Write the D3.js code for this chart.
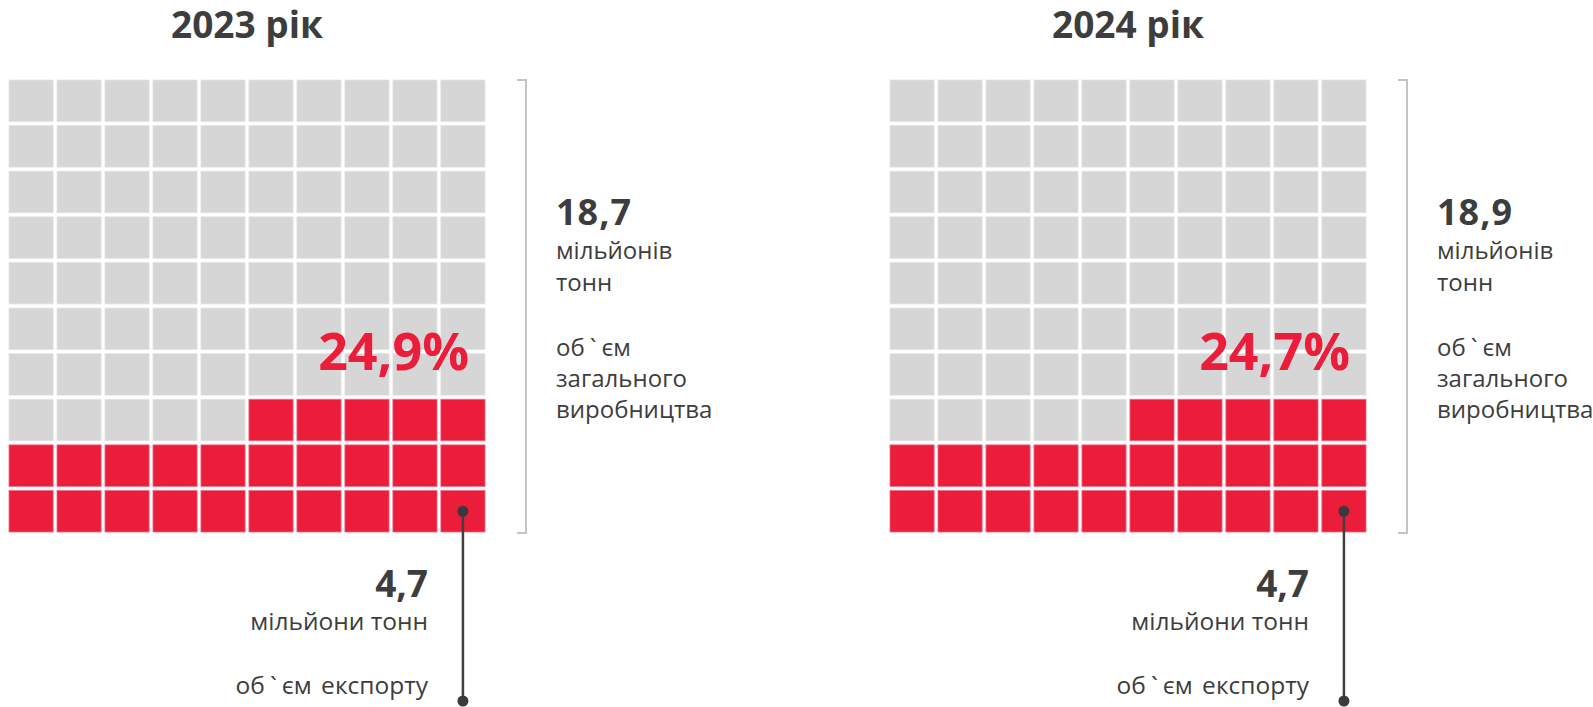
<!DOCTYPE html>
<html>
<head>
<meta charset="utf-8">
<script src="https://cdn.jsdelivr.net/npm/d3@7"></script>
<style>
  html, body { margin: 0; padding: 0; background: #fff; }
  svg { display: block; }
</style>
</head>
<body>
<svg id="chart" width="1593" height="707"></svg>
<script>
// ---- data ----
const years = ["2023 рік", "2024 рік"];
const productionValues = ["18,7", "18,9"];
const exportValues = ["4,7", "4,7"];
const sharePercent = [24.9, 24.7];
const shareLabels = ["24,9%", "24,7%"];
const productionUnit = ["мільйонів", "тонн"];
const productionCaption = ["об`єм", "загального", "виробництва"];
const exportUnit = "мільйони тонн";
const exportCaption = "об`єм експорту";
const gridCols = d3.range(10);
const gridRows = d3.range(10);

// ---- style ----
const RED = "#ec1c3b";
const GREY = "#d6d6d6";
const TEXT = "#3d3d3d";
const FONT = "'Open Sans', 'DejaVu Sans', sans-serif";

const svg = d3.select("#chart");
const panelOffset = 881;

// write text, widening the space around the backtick like the reference font
function spaced(sel, str) {
  const parts = str.split("`");
  parts.forEach((part, k) => {
    if (k > 0) sel.append("tspan").attr("dx", 5).text("`");
    sel.append("tspan").attr("dx", k > 0 ? 5 : 0).text(part);
  });
  return sel;
}

years.forEach((year, p) => {
  const g = svg.append("g").attr("transform", `translate(${p * panelOffset},0)`);

  const x = d3.scaleBand().domain(gridCols).range([9, 485]).paddingInner(0.08);
  const y = d3.scaleBand().domain(gridRows).range([80, 532]).paddingInner(0.09);

  const redCount = Math.round(sharePercent[p]);
  const cells = d3.range(100).map(i => ({
    i,
    row: 9 - Math.floor(i / 10),
    col: 9 - (i % 10),
    red: i < redCount
  }));

  g.selectAll("rect.cell").data(cells).join("rect")
    .attr("class", "cell")
    .attr("x", d => x(d.col))
    .attr("y", d => y(d.row))
    .attr("width", x.bandwidth())
    .attr("height", y.bandwidth())
    .attr("fill", d => d.red ? RED : GREY)
    .attr("stroke", d => d.red ? "#f06a80" : "#e4e4e4")
    .attr("stroke-width", 0.8);

  // title
  g.append("text")
    .attr("x", (x.range()[0] + x.range()[1]) / 2)
    .attr("y", 38)
    .attr("text-anchor", "middle")
    .attr("font-family", FONT)
    .attr("font-weight", 700)
    .attr("font-size", 37)
    .attr("fill", TEXT)
    .text(year);

  // percent label
  g.append("text")
    .attr("x", 469)
    .attr("y", 370)
    .attr("text-anchor", "end")
    .attr("font-family", FONT)
    .attr("font-weight", 700)
    .attr("font-size", 52)
    .attr("fill", RED)
    .text(shareLabels[p]);

  // bracket
  const bx = 526;
  g.append("path")
    .attr("d", `M${bx - 9},${y.range()[0]} H${bx} V${y.range()[1] + 1} H${bx - 9}`)
    .attr("fill", "none")
    .attr("stroke", "#c4c4c4")
    .attr("stroke-width", 2);

  // production labels
  const tx = 556;
  g.append("text")
    .attr("x", tx).attr("y", 225)
    .attr("font-family", FONT).attr("font-weight", 700)
    .attr("font-size", 36).attr("letter-spacing", 1)
    .attr("fill", TEXT)
    .text(productionValues[p]);
  productionUnit.forEach((t, k) => {
    g.append("text")
      .attr("x", tx).attr("y", 259 + k * 32)
      .attr("font-family", FONT).attr("font-size", 24)
      .attr("fill", TEXT).text(t);
  });
  productionCaption.forEach((t, k) => {
    const el = g.append("text")
      .attr("x", tx).attr("y", 356 + k * 31)
      .attr("font-family", FONT).attr("font-size", 24)
      .attr("fill", TEXT);
    spaced(el, t);
  });

  // connector
  const cx = x(9) + x.bandwidth() / 2;
  const cy = y(9) + y.bandwidth() / 2;
  g.append("line")
    .attr("x1", cx).attr("x2", cx)
    .attr("y1", cy).attr("y2", 701)
    .attr("stroke", "#404040").attr("stroke-width", 2.5);
  g.append("circle").attr("cx", cx).attr("cy", cy).attr("r", 5.5).attr("fill", "#3a3a3a");
  g.append("circle").attr("cx", cx).attr("cy", 701).attr("r", 5.5).attr("fill", "#3a3a3a");

  // export labels
  const ex = 428;
  g.append("text")
    .attr("x", ex).attr("y", 597)
    .attr("text-anchor", "end")
    .attr("font-family", FONT).attr("font-weight", 700)
    .attr("font-size", 37)
    .attr("fill", TEXT).text(exportValues[p]);
  g.append("text")
    .attr("x", ex).attr("y", 630)
    .attr("text-anchor", "end")
    .attr("font-family", FONT).attr("font-size", 24.5)
    .attr("fill", TEXT).text(exportUnit);
  const ec = g.append("text")
    .attr("x", ex).attr("y", 694)
    .attr("text-anchor", "end")
    .attr("font-family", FONT).attr("font-size", 24.5)
    .attr("word-spacing", 3)
    .attr("fill", TEXT);
  spaced(ec, exportCaption);
});
</script>
</body>
</html>
